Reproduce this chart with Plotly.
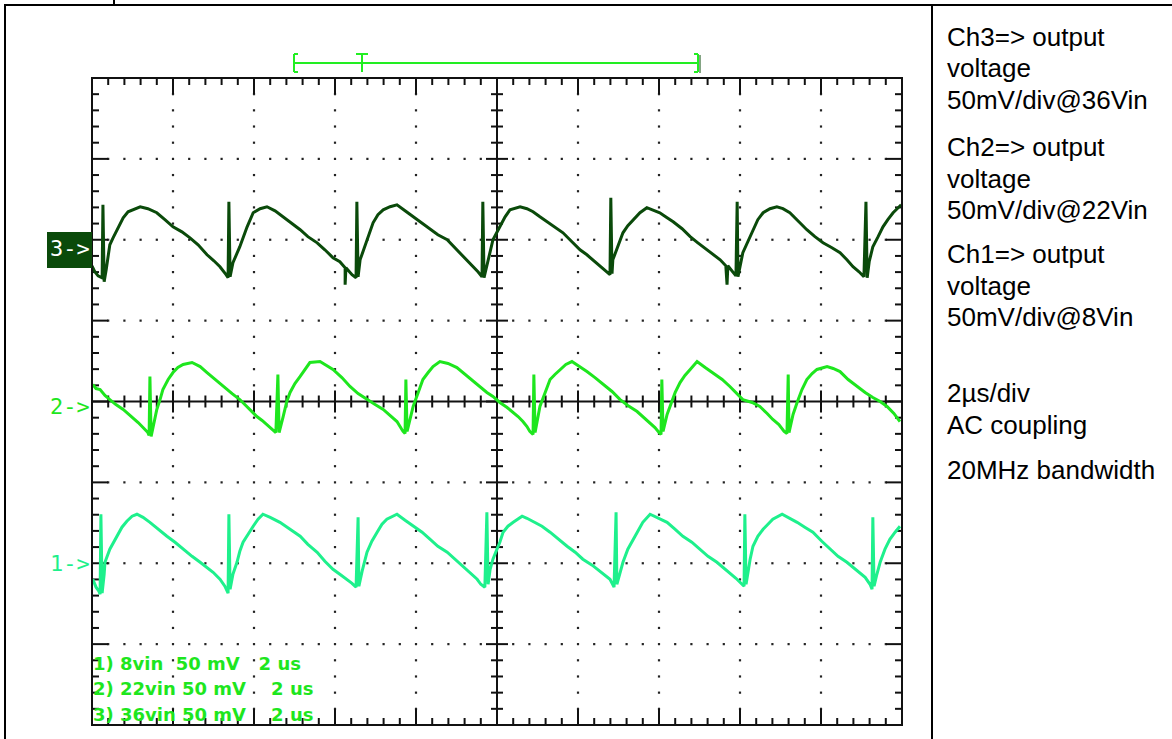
import plotly.graph_objects as go

# ---------------- data ----------------
# time base: 2 us/div, 10 divisions -> 0..20 us ; vertical: 50 mV/div, 8 divisions
time_range_us = [0, 20]
mv_per_div = 50
ch_offset_div = {"ch1": -2, "ch2": 0, "ch3": 2}

ch3_t_us = [0.00, 0.07, 0.15, 0.25, 0.27, 0.30, 0.35, 0.44, 0.52, 0.62, 0.77, 0.89, 0.99, 1.19, 1.38, 1.60, 1.80, 2.00, 2.22, 2.42, 2.62, 2.84, 3.01, 3.16, 3.31, 3.36, 3.38, 3.41,
            3.48, 3.65, 3.83, 3.98, 4.15, 4.32, 4.52, 4.72, 4.94, 5.14, 5.33, 5.56, 5.75, 5.95, 6.12, 6.25, 6.25, 6.27, 6.42, 6.52, 6.54, 6.57,
            6.62, 6.79, 6.94, 7.06, 7.19, 7.36, 7.53, 7.73, 7.93, 8.15, 8.35, 8.54, 8.77, 8.96, 9.16, 9.28, 9.41, 9.53, 9.63, 9.65, 9.68,
            9.78, 9.90, 10.07, 10.20, 10.32, 10.57, 10.74, 10.89, 11.06, 11.23, 11.43, 11.63, 11.85, 12.05, 12.22, 12.37, 12.54, 12.72, 12.79, 12.81, 12.84,
            12.86, 12.99, 13.11, 13.23, 13.36, 13.53, 13.70, 13.85, 14.02, 14.20, 14.35, 14.57, 14.77, 14.96, 15.19, 15.36, 15.51, 15.65, 15.68, 15.70, 15.83, 15.90, 15.93, 15.95,
            16.07, 16.20, 16.32, 16.44, 16.57, 16.74, 16.91, 17.06, 17.23, 17.43, 17.65, 17.85, 18.05, 18.27, 18.47, 18.64, 18.79, 18.94, 19.06, 19.11, 19.14,
            19.19, 19.28, 19.41, 19.53, 19.65, 19.78, 19.88, 19.98]
ch3_mv = [-16.1, -19.8, -22.3, -23.5, 21.6, -26.0, -18.5, -3.1, 1.2, 6.2, 13.6, 17.3, 18.5, 20.4, 19.2, 16.7, 12.4, 8.0, 4.9, 1.2, -3.1, -9.3, -13.0, -16.7, -21.6, -23.5, 23.5, -22.9,
          -14.2, -4.3, 8.0, 16.7, 19.2, 20.4, 17.9, 14.2, 9.9, 6.2, 1.9, -1.9, -6.2, -11.1, -13.6, -17.3, -27.8, -17.3, -21.6, -23.5, 23.5, -22.9,
          -12.4, 0.0, 10.5, 15.5, 18.5, 20.4, 21.6, 17.9, 14.2, 9.9, 6.2, 3.1, 0.0, -4.9, -10.5, -13.6, -16.7, -19.8, -22.9, 23.5, -23.5,
          -13.6, 0.0, 8.0, 14.2, 18.5, 20.4, 19.2, 17.3, 14.2, 11.1, 8.0, 4.3, -1.2, -6.2, -9.3, -12.4, -16.1, -19.8, -21.6, 26.0, -21.0,
          -12.4, -4.3, 4.3, 8.7, 12.4, 16.7, 19.8, 18.5, 16.7, 13.6, 11.1, 6.8, 1.9, -1.9, -6.2, -9.3, -12.4, -16.1, -27.8, -16.1, -20.4, -22.3, 23.5, -22.9,
          -8.0, -0.6, 6.2, 12.4, 16.7, 19.2, 20.4, 19.2, 16.7, 11.7, 6.2, 1.9, -1.9, -4.9, -8.0, -12.4, -16.7, -19.8, -22.9, 23.5, -23.5,
          -13.6, -4.3, 1.9, 8.0, 12.4, 16.7, 19.2, 21.6]

ch2_t_us = [0.02, 0.10, 0.20, 0.32, 0.44, 0.59, 0.77, 0.89, 1.01, 1.14, 1.26, 1.38, 1.41, 1.43, 1.46, 1.53, 1.60, 1.68, 1.75, 1.88,
            2.00, 2.12, 2.25, 2.47, 2.67, 2.84, 3.04, 3.23, 3.46, 3.65, 3.85, 4.07, 4.20, 4.32, 4.44, 4.54, 4.59, 4.62, 4.72, 4.81,
            4.89, 5.01, 5.14, 5.26, 5.38, 5.63, 5.80, 5.95, 6.17, 6.37, 6.57, 6.79, 6.99, 7.19, 7.36, 7.53, 7.68, 7.73, 7.75, 7.78,
            7.93, 8.05, 8.17, 8.30, 8.42, 8.59, 8.79, 9.01, 9.21, 9.41, 9.58, 9.75, 9.90, 10.07, 10.25, 10.40, 10.52, 10.64, 10.74, 10.81,
            10.89, 10.91, 10.94, 11.06, 11.19, 11.31, 11.43, 11.56, 11.70, 11.85, 12.05, 12.22, 12.42, 12.62, 12.84, 13.04, 13.23, 13.46, 13.63, 13.78,
            13.90, 14.00, 14.05, 14.07, 14.10, 14.20, 14.27, 14.40, 14.52, 14.64, 14.77, 14.94, 15.14, 15.33, 15.56, 15.75, 15.93, 16.07, 16.30, 16.49,
            16.67, 16.81, 16.96, 17.09, 17.16, 17.19, 17.21, 17.31, 17.41, 17.53, 17.65, 17.78, 17.90, 18.15, 18.30, 18.47, 18.67, 18.89, 19.09, 19.28,
            19.46, 19.63, 19.80, 19.95]
ch2_mv = [10.5, 8.0, 7.4, 3.7, 1.2, -1.9, -4.9, -7.4, -9.9, -13.0, -16.1, -19.2, -21.0, 15.5, -21.6, -12.4, -4.9, 1.2, 7.4, 13.6,
          17.9, 21.0, 22.9, 24.1, 21.6, 17.9, 13.6, 9.3, 4.9, 1.2, -3.7, -9.3, -11.7, -14.2, -16.7, -19.2, 16.7, -19.2, -9.3, 0.0,
          5.6, 11.1, 15.5, 19.8, 24.1, 24.7, 22.3, 19.8, 14.8, 9.3, 4.9, 1.2, -1.9, -4.9, -8.7, -12.4, -18.5, -19.8, 13.6, -18.5,
          -3.1, 5.6, 13.6, 17.9, 21.6, 24.7, 23.5, 21.0, 16.7, 12.4, 8.7, 5.6, 3.1, -0.6, -3.7, -6.8, -9.3, -12.4, -15.5, -18.5,
          -20.4, 16.7, -19.2, -3.1, 5.6, 13.6, 16.7, 19.8, 22.9, 24.7, 21.6, 18.5, 14.8, 10.5, 6.2, 1.2, -2.5, -6.2, -9.9, -13.0,
          -16.1, -19.2, -20.4, 13.6, -18.5, -8.0, -3.1, 5.6, 11.7, 16.1, 19.8, 24.7, 21.0, 17.9, 13.6, 9.3, 4.9, 1.2, -0.6, -3.1,
          -7.4, -11.1, -14.2, -18.5, -19.8, 16.7, -19.2, -8.0, -0.6, 7.4, 13.6, 17.3, 19.8, 21.6, 20.4, 18.5, 13.6, 9.3, 5.6, 2.5,
          0.0, -3.1, -7.4, -12.4]

ch1_t_us = [0.02, 0.10, 0.17, 0.20, 0.22, 0.25, 0.30, 0.32, 0.44, 0.62, 0.74, 0.86, 0.99, 1.11, 1.26, 1.43, 1.63, 1.85, 2.05, 2.25,
            2.47, 2.67, 2.84, 2.99, 3.16, 3.28, 3.36, 3.38, 3.41, 3.48, 3.58, 3.65, 3.73, 3.85, 3.98, 4.10, 4.22, 4.40, 4.64, 4.89,
            5.14, 5.33, 5.56, 5.75, 5.95, 6.12, 6.30, 6.42, 6.52, 6.57, 6.59, 6.67, 6.79, 6.91, 7.04, 7.16, 7.28, 7.53, 7.73, 7.93,
            8.15, 8.35, 8.54, 8.77, 8.96, 9.16, 9.33, 9.51, 9.60, 9.70, 9.75, 9.78, 9.83, 9.90, 10.00, 10.07, 10.15, 10.27, 10.40, 10.62,
            10.74, 10.89, 11.11, 11.31, 11.51, 11.73, 11.93, 12.12, 12.35, 12.54, 12.67, 12.79, 12.89, 12.94, 12.96, 13.04, 13.11, 13.23, 13.36, 13.48,
            13.60, 13.78, 13.98, 14.20, 14.40, 14.59, 14.81, 15.01, 15.21, 15.43, 15.58, 15.75, 15.90, 16.05, 16.10, 16.12, 16.15, 16.25, 16.32, 16.44,
            16.57, 16.69, 16.81, 17.04, 17.23, 17.41, 17.60, 17.80, 18.02, 18.22, 18.42, 18.64, 18.79, 18.96, 19.09, 19.21, 19.26, 19.28, 19.31, 19.38,
            19.46, 19.58, 19.70, 19.83, 19.95]
ch1_mv = [-9.9, -14.8, -17.3, -19.2, 30.3, -18.5, -6.8, 0.6, 8.7, 16.7, 22.3, 26.0, 29.1, 30.3, 28.4, 25.3, 21.0, 16.7, 13.0, 8.7,
          4.3, 0.6, -2.5, -5.6, -9.9, -14.2, -18.5, 30.3, -16.1, -6.8, 0.6, 7.4, 13.0, 17.9, 22.9, 27.2, 30.3, 28.4, 25.3, 21.0,
          16.7, 11.7, 6.8, 1.2, -3.7, -6.8, -9.9, -12.4, -14.8, 28.4, -14.2, -4.9, 6.8, 13.6, 19.2, 24.1, 27.2, 30.3, 26.6, 22.9,
          19.2, 14.8, 10.5, 6.8, 2.5, -1.9, -6.2, -9.9, -13.0, -14.8, 31.5, -13.0, -3.7, 2.5, 8.7, 13.0, 19.2, 22.9, 25.3, 29.1,
          27.8, 26.0, 22.9, 19.2, 14.8, 10.5, 6.8, 2.5, -1.2, -4.9, -7.4, -9.9, -14.8, 31.5, -13.0, -4.9, 0.6, 8.7, 14.8, 20.4,
          25.3, 30.3, 27.8, 25.3, 21.0, 16.7, 13.0, 8.7, 4.3, 0.6, -2.5, -5.6, -9.3, -13.0, -14.2, 30.3, -13.0, 2.5, 10.5, 16.7,
          21.0, 24.1, 27.2, 30.3, 27.8, 25.3, 22.3, 19.2, 13.6, 8.7, 4.3, 0.6, -2.5, -5.6, -8.7, -13.0, -16.1, 28.4, -14.2, -6.8,
          0.6, 8.7, 14.8, 19.2, 22.9]

channel_names = ["ch1", "ch2", "ch3"]
channel_labels = {"ch1": "1->", "ch2": "2->", "ch3": "3->"}
NB = "\u00a0"
scope_legend = ["1) 8vin" + NB * 2 + "50 mV" + NB * 3 + "2 us",
                "2) 22vin" + NB + "50 mV" + NB * 4 + "2 us",
                "3) 36vin" + NB + "50 mV" + NB * 4 + "2 us"]
notes = [("Ch3=> output", 37), ("voltage", 68.5), ("50mV/div@36Vin", 100),
         ("Ch2=> output", 147), ("voltage", 178.5), ("50mV/div@22Vin", 210),
         ("Ch1=> output", 254), ("voltage", 285.5), ("50mV/div@8Vin", 317),
         ("2\u00b5s/div", 393), ("AC coupling", 424.5), ("20MHz bandwidth", 470)]

# ---------------- styling / geometry ----------------
W, H = 1172, 739
PL, PR, PT, PB = 92, 902, 78, 725          # plot area in page pixels
colors = {"ch1": "#1ef08c", "ch2": "#1ee61e", "ch3": "#0a4a0a"}
XDIV, YDIV = 10, 8
px_per_us = (PR - PL) / (time_range_us[1] - time_range_us[0])
px_per_div = (PB - PT) / YDIV


def px_x(px):
    return (px - PL) / (PR - PL)


def px_y(py):
    return (PB - py) / (PB - PT)


fig = go.Figure()

# graticule dots
dx, dy = [], []
for k in range(1, XDIV):
    if k == XDIV // 2:
        continue
    for j in range(-19, 20):
        if j == 0:
            continue
        dx.append(k * 2.0)
        dy.append(j * 0.2)
for m in range(-3, 4):
    if m == 0:
        continue
    for i in range(1, 50):
        if i == 25 or i % 5 == 0:
            continue
        dx.append(i * 0.4)
        dy.append(m)
fig.add_trace(go.Scatter(x=dx, y=dy, mode="markers", hoverinfo="skip", showlegend=False,
                         marker=dict(symbol="square", size=2.2, color="#222222", line=dict(width=0))))

# edge ticks and centre cross
tx, ty = [], []


def seg(x0, y0, x1, y1):
    tx.extend([x0, x1, None])
    ty.extend([y0, y1, None])


for i in range(1, 50):
    t = i * 0.4
    major = i % 5 == 0
    L = (16 if major else 7) / px_per_div
    seg(t, -4, t, -4 + L)
    seg(t, 4, t, 4 - L)
    c = (11 if major else 6) / px_per_div
    seg(t, -c, t, c)
for j in range(-19, 20):
    yv = j * 0.2
    major = j % 5 == 0
    L = (16 if major else 7) / px_per_us
    seg(0, yv, L, yv)
    seg(20, yv, 20 - L, yv)
    c = (11 if major else 6) / px_per_us
    seg(10 - c, yv, 10 + c, yv)
seg(10, -4, 10, 4)
seg(0, 0, 20, 0)
fig.add_trace(go.Scatter(x=tx, y=ty, mode="lines", hoverinfo="skip", showlegend=False,
                         line=dict(color="#111111", width=2)))

# waveforms
series = {"ch1": (ch1_t_us, ch1_mv), "ch2": (ch2_t_us, ch2_mv), "ch3": (ch3_t_us, ch3_mv)}
for name in channel_names:
    t, v = series[name]
    y = [ch_offset_div[name] + val / mv_per_div for val in v]
    fig.add_trace(go.Scatter(x=t, y=y, mode="lines", name=name, showlegend=False,
                             line=dict(color=colors[name], width=3)))

shapes = []
# graticule frame
shapes.append(dict(type="rect", xref="paper", yref="paper", x0=0, x1=1, y0=0, y1=1,
                   line=dict(color="#111111", width=2)))
# page frame (table lines)
top = px_y(5)
shapes.append(dict(type="line", xref="paper", yref="paper", x0=px_x(4), x1=px_x(W), y0=top, y1=top,
                   line=dict(color="black", width=2)))
shapes.append(dict(type="line", xref="paper", yref="paper", x0=px_x(5), x1=px_x(5), y0=top, y1=px_y(H),
                   line=dict(color="black", width=2)))
shapes.append(dict(type="line", xref="paper", yref="paper", x0=px_x(932), x1=px_x(932), y0=top, y1=px_y(H),
                   line=dict(color="black", width=2)))
shapes.append(dict(type="line", xref="paper", yref="paper", x0=px_x(114), x1=px_x(114), y0=px_y(0), y1=top,
                   line=dict(color="black", width=2)))
# trigger / record bracket
bg = "#22ee22"
for (a, b, c, d) in [(293, 63, 698, 63), (294, 54, 294, 72), (294, 54, 298, 54), (294, 72, 298, 72),
                     (698, 54, 698, 72), (694, 54, 698, 54), (694, 72, 698, 72),
                     (362, 54, 362, 72), (356, 54, 368, 54)]:
    shapes.append(dict(type="line", xref="paper", yref="paper", x0=px_x(a), x1=px_x(c),
                       y0=px_y(b), y1=px_y(d), line=dict(color=bg, width=2)))
shapes.append(dict(type="line", xref="paper", yref="paper", x0=px_x(700), x1=px_x(700),
                   y0=px_y(55), y1=px_y(73), line=dict(color="#0a4a0a", width=1)))
# ch3 label box
shapes.append(dict(type="rect", xref="paper", yref="paper", x0=px_x(47), x1=px_x(92),
                   y0=px_y(268), y1=px_y(232), fillcolor="#0a4a0a", line=dict(width=0)))

annotations = []
label_y = {"ch3": 249, "ch2": 406, "ch1": 563}
for name in channel_names:
    annotations.append(dict(xref="paper", yref="paper", x=px_x(70), y=px_y(label_y[name]),
                            text=channel_labels[name], showarrow=False, xanchor="center", yanchor="middle",
                            font=dict(family="DejaVu Sans Mono", size=22,
                                      color="white" if name == "ch3" else colors[name])))
for i, line in enumerate(scope_legend):
    annotations.append(dict(xref="paper", yref="paper", x=px_x(91), y=px_y(663 + 25.5 * i),
                            text="<b>" + line + "</b>", showarrow=False, xanchor="left", yanchor="middle",
                            font=dict(family="DejaVu Sans", size=18, color="#1ee61e")))
for text, yy in notes:
    annotations.append(dict(xref="paper", yref="paper", x=px_x(945), y=px_y(yy), text=text,
                            showarrow=False, xanchor="left", yanchor="middle",
                            font=dict(family="Liberation Sans, Arial", size=26, color="black")))

fig.update_layout(
    width=W, height=H, autosize=False,
    margin=dict(l=PL, r=W - PR, t=PT, b=H - PB, pad=0),
    paper_bgcolor="white", plot_bgcolor="white",
    xaxis=dict(range=time_range_us, showgrid=False, zeroline=False, showticklabels=False,
               ticks="", showline=False, fixedrange=True),
    yaxis=dict(range=[-YDIV / 2, YDIV / 2], showgrid=False, zeroline=False, showticklabels=False,
               ticks="", showline=False, fixedrange=True),
    shapes=shapes, annotations=annotations, showlegend=False,
)

fig.write_html("out.html", config={"displayModeBar": False},
               post_script="document.body.style.margin='0';document.body.style.overflow='hidden';")
